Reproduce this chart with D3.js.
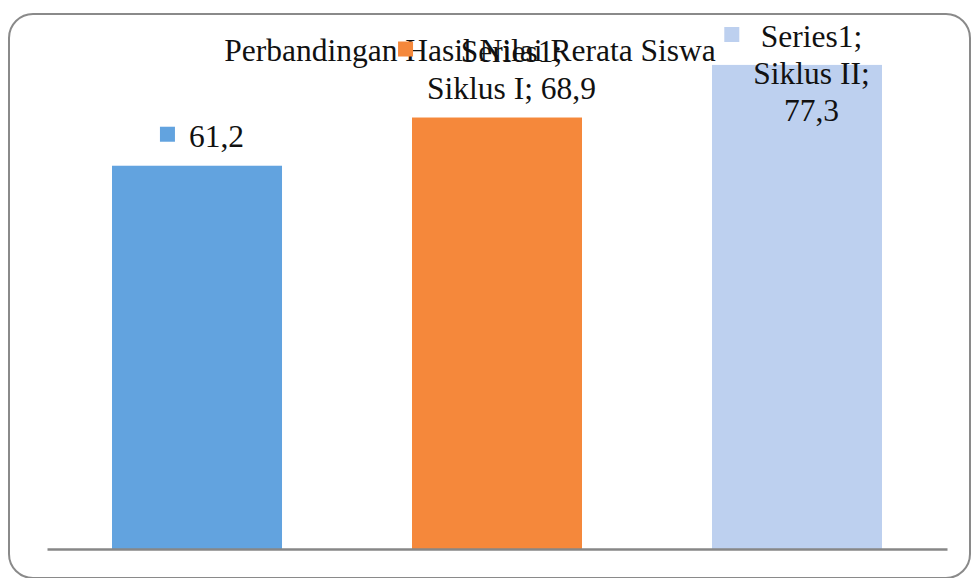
<!DOCTYPE html>
<html><head><meta charset="utf-8">
<script src="https://cdn.jsdelivr.net/npm/d3@7/dist/d3.min.js"></script>
<style>html,body{margin:0;padding:0;background:#fff;}svg{display:block;}</style>
</head><body><div id="chart"></div>
<script>
const title = "Perbandingan Hasil Nilai Rerata Siswa";
const seriesName = "Series1";
const categories = ["Pra Siklus", "Siklus I", "Siklus II"];
const values = [61.2, 68.9, 77.3];
const colors = ["#62a3df", "#f5883b", "#bdd0ef"];
const fmt = v => String(v).replace(".", ",");
const labelLines = [
  [fmt(values[0])],
  [seriesName + ";", categories[1] + "; " + fmt(values[1])],
  [seriesName + ";", categories[2] + ";", fmt(values[2])]
];

const W = 971, H = 578;
const svg = d3.select("#chart").append("svg").attr("width", W).attr("height", H);
svg.append("rect").attr("x", 9).attr("y", 14).attr("width", 961).attr("height", 564)
  .attr("rx", 24).attr("fill", "#fff").attr("stroke", "#8a8a8a").attr("stroke-width", 2);

const x = d3.scaleBand().domain(categories).range([47, 947]).paddingInner(0.4333).paddingOuter(0.2167);
const y = d3.scaleLinear().domain([0, 80]).range([549, 48]);

svg.append("g").selectAll("rect").data(values).join("rect")
  .attr("x", (d, i) => x(categories[i])).attr("width", x.bandwidth())
  .attr("y", d => y(d)).attr("height", d => y(0) - y(d))
  .attr("fill", (d, i) => colors[i]);

const ax = svg.append("g").attr("transform", `translate(0,${y(0)})`)
  .call(d3.axisBottom(x).tickSize(0).tickSizeOuter(0).tickFormat(""));
ax.select(".domain").attr("stroke", "#878787").attr("stroke-width", 2.5);

const font = "'Liberation Serif','Times New Roman',serif";
const fs = 31.5, lh = 37;

svg.append("text").attr("x", 470).attr("y", 61).attr("text-anchor", "middle")
  .attr("font-family", font).attr("font-size", fs).attr("fill", "#111").text(title);

values.forEach((v, i) => {
  const lines = labelLines[i];
  const cx = x(categories[i]) + x.bandwidth() / 2 + (lines.length === 1 ? 5 : 0);
  let lastBase = y(v) - 19;
  let firstBase = lastBase - (lines.length - 1) * lh;
  if (firstBase < 47) { firstBase = 47; }
  const g = svg.append("g");
  const t = g.append("text").attr("font-family", font).attr("font-size", fs).attr("fill", "#111")
    .attr("text-anchor", "middle");
  lines.forEach((ln, j) => {
    t.append("tspan").attr("x", 0).attr("y", firstBase + j * lh).text(ln);
  });
  const bw = t.node().getBBox().width;
  const sq = 15, gap = 14;
  const total = sq + gap + bw;
  const left = cx - total / 2;
  t.attr("transform", `translate(${left + sq + gap + bw / 2},0)`);
  g.append("rect").attr("x", left).attr("y", firstBase - 20)
    .attr("width", sq).attr("height", sq).attr("fill", colors[i]);
});
</script></body></html>
